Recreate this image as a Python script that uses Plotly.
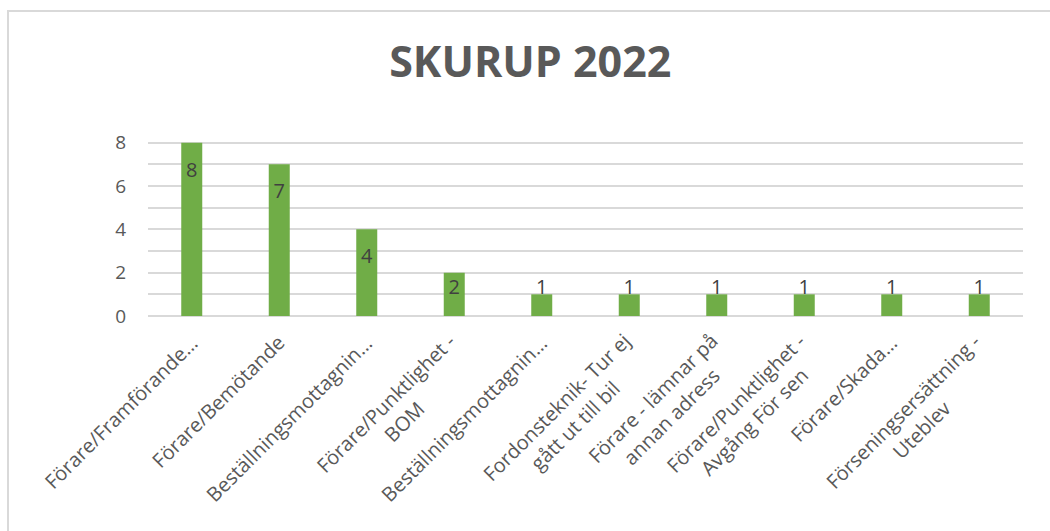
import plotly.graph_objects as go

categories = [
    "Förare/Framförande…",
    "Förare/Bemötande",
    "Beställningsmottagnin…",
    "Förare/Punktlighet -<br>BOM",
    "Beställningsmottagnin…",
    "Fordonsteknik- Tur ej<br>gått ut till bil",
    "Förare - lämnar på<br>annan adress",
    "Förare/Punktlighet -<br>Avgång För sen",
    "Förare/Skada…",
    "Förseningsersättning -<br>Uteblev",
]
values = [8, 7, 4, 2, 1, 1, 1, 1, 1, 1]
y_ticks = [0, 2, 4, 6, 8]
title_text = "SKURUP 2022"

x_idx = list(range(len(categories)))
# label centre: inside end of bar, but not below a minimum height
label_y = [max(v - 1.34, 1.25) for v in values]

fig = go.Figure()
fig.add_trace(go.Bar(
    x=x_idx, y=values, marker=dict(color="#70AD47", line=dict(width=0)),
    width=0.24, hoverinfo="skip", showlegend=False,
))
fig.add_trace(go.Scatter(
    x=x_idx, y=label_y, mode="text", text=[str(v) for v in values],
    textposition="middle center",
    textfont=dict(family="Open Sans", size=20, color="#404040"),
    showlegend=False, hoverinfo="skip",
))

# rotated, centre-aligned category labels
annotations = []
for i, cat in enumerate(categories):
    n_lines = cat.count("<br>") + 1
    annotations.append(dict(
        x=i, y=0, xref="x", yref="y", text=cat, showarrow=False,
        textangle=-45, align="center", xanchor="right", yanchor="top",
        xshift=14 + 14 * (n_lines - 1), yshift=-11 + 2 * (n_lines - 1),
        font=dict(family="Open Sans", size=20, color="#595959"),
    ))

fig.update_layout(
    width=1050, height=531,
    margin=dict(l=148, r=27, t=121, b=215),
    paper_bgcolor="white", plot_bgcolor="white",
    font=dict(family="Open Sans", color="#595959"),
    title=dict(text="<b>" + title_text + "</b>", x=0.505, xanchor="center",
               y=0.883, yanchor="middle",
               font=dict(family="Open Sans", size=43, color="#595959")),
    xaxis=dict(
        tickmode="array", tickvals=x_idx, showticklabels=False,
        range=[-0.5, len(categories) - 0.5],
        showgrid=False, zeroline=False, showline=False, ticks="",
        automargin=False,
    ),
    yaxis=dict(
        range=[0, 9], tickmode="array", tickvals=y_ticks,
        tickfont=dict(family="Open Sans", size=19, color="#595959"),
        showgrid=True, gridcolor="#D9D9D9", gridwidth=1.5,
        zeroline=True, zerolinecolor="#D9D9D9", zerolinewidth=1.5,
        minor=dict(dtick=1, showgrid=True, gridcolor="#D9D9D9", gridwidth=1.5),
        ticklabelstandoff=21, ticks="", automargin=False,
    ),
    annotations=annotations,
    shapes=[dict(
        type="rect", xref="paper", yref="paper",
        x0=(8 - 148) / 875, x1=1.2, y0=-2, y1=1 + (121 - 11) / 195,
        line=dict(color="#D9D9D9", width=2), fillcolor="rgba(0,0,0,0)",
        layer="below",
    )],
)

fig.write_html("out.html", config={"displayModeBar": False},
               post_script="document.body.style.margin='0';")
